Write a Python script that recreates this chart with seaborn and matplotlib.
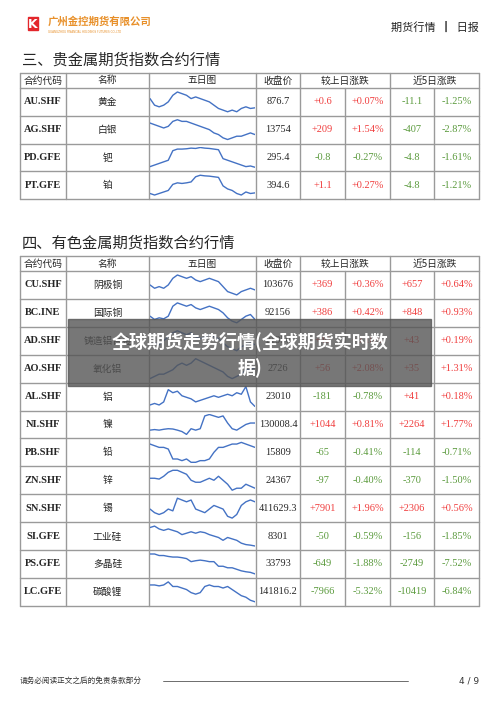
import matplotlib
matplotlib.use("Agg")
import matplotlib.pyplot as plt
import seaborn as sns
import pandas as pd
from matplotlib.patches import Rectangle

sns.set_theme(style="white")
plt.rcParams['font.family'] = ['Liberation Serif', 'Noto Sans CJK SC', 'DejaVu Sans']

# ---------------- data ----------------
codes1 = ["AU.SHF", "AG.SHF", "PD.GFE", "PT.GFE"]
names1 = ["黄金", "白银", "钯", "铂"]
close1 = ["876.7", "13754", "295.4", "394.6"]
chg1 = ["+0.6", "+209", "-0.8", "+1.1"]
pct1 = ["+0.07%", "+1.54%", "-0.27%", "+0.27%"]
chg5_1 = ["-11.1", "-407", "-4.8", "-4.8"]
pct5_1 = ["-1.25%", "-2.87%", "-1.61%", "-1.21%"]
spark1 = [
    [5,3,2.5,3,4,6,7,6.5,6,5,5.5,5,4.5,4,3,2,1.5,1,1.5,1,2,2.5,2,2.2],
    [6,5.5,5,4.5,5,6.5,7,6.5,6.5,6,5.5,5,4.5,4,3,2.5,1.5,1,1.5,2,2,2.5,3,2.5],
    [1,1.5,2,2.5,3,6,6.5,6.5,6.6,6.8,6.7,7,6.8,6.7,6.5,6.3,3.5,3,2.5,2,1.5,1,1.2,0.8],
    [1,0.5,1,1.5,2,4,4.5,4.3,4.5,4.8,6.5,7,6.8,6.7,6.5,6.3,3.5,2.5,2,1,0.5,1.5,1,1.2],
]

codes2 = ["CU.SHF", "BC.INE", "AD.SHF", "AO.SHF", "AL.SHF", "NI.SHF", "PB.SHF",
          "ZN.SHF", "SN.SHF", "SI.GFE", "PS.GFE", "LC.GFE"]
names2 = ["阴极铜", "国际铜", "铸造铝合金", "氧化铝", "铝", "镍", "铅", "锌", "锡",
          "工业硅", "多晶硅", "碳酸锂"]
close2 = ["103676", "92156", "21950", "2726", "23010", "130008.4", "15809", "24367",
          "411629.3", "8301", "33793", "141816.2"]
chg2 = ["+369", "+386", "+40", "+56", "-181", "+1044", "-65", "-97", "+7901", "-50",
        "-649", "-7966"]
pct2 = ["+0.36%", "+0.42%", "+0.18%", "+2.08%", "-0.78%", "+0.81%", "-0.41%", "-0.40%",
        "+1.96%", "-0.59%", "-1.88%", "-5.32%"]
chg5_2 = ["+657", "+848", "+43", "+35", "+41", "+2264", "-114", "-370", "+2306", "-156",
          "-2749", "-10419"]
pct5_2 = ["+0.64%", "+0.93%", "+0.19%", "+1.31%", "+0.18%", "+1.77%", "-0.71%", "-1.50%",
          "+0.56%", "-1.85%", "-7.52%", "-6.84%"]
spark2 = [
    [4,3,3.5,3,4,6,7,6.5,6,6.5,5.5,5,5.5,6,5.5,5,3.5,2,1.5,1,2,2.5,3,2.5],
    [3,2,2.5,2.2,3,6,7,6.5,6,6.5,5.5,5,5.5,6,5.5,5,4,2.5,1.5,1,2,3,3.5,2],
    [3,3.5,3,4,5,6,6.5,6,5.5,6,5,4.5,5,5.5,5,4.5,3.5,2.5,2,1.5,2.5,3,3.5,3],
    [1,1.5,2,2,2.5,3,4,4.5,4,4.5,5.5,5,4.5,4,3.5,3,2.5,1.5,1,1.5,2,3,3,3.5],
    [1,1.5,1,2,6,5,5.5,4,3.5,3,2,2.5,3,3.5,4,3.5,4,4.5,4,5,4.5,7,2,0.5],
    [2,2.2,2,2.3,2.5,2.4,2,1.5,0.5,2.5,2,2.5,7,7.5,7,6.5,7,4.5,2.5,2,3,4,4.5,4.5],
    [6.5,6,5.5,5.5,5,2,2,1.5,2,1,1,1.5,1.5,2,4,5.5,5.5,6,6.5,6.5,7,6.5,6,5.5],
    [4,4,3.8,4.5,5.5,6,6,5.5,5,3.5,3,3,3.5,4,3.5,4.5,3.5,2.5,1,1.5,1.5,2.5,2,1.5],
    [3,2,1.5,2,3,2.5,6,5.5,5,5.5,3,2.5,2,3,4,3.5,3,1,0.5,1.5,4,5,5.5,5],
    [7,7.5,6.5,6,6.5,6,5.5,4.5,5,5.5,5,5.5,5.2,4.5,4,3.5,2.5,3.5,3,2.5,1.5,1,0.8,0.5],
    [7,7,6.5,6.5,6.2,6,6,5.8,5.5,4.5,4.8,5,4.8,4.5,4.5,3,3,2.5,2.5,2,1.5,1.2,1,0.5],
    [5.5,5.5,5.2,5.5,6.5,5,5,4.5,4,3,2.5,3,5,5.5,5,5,4.5,5,4,3,2,1.5,0.5,0],
]
headers = ["合约代码", "名称", "五日图", "收盘价", "较上日涨跌", "近5日涨跌"]

# ---------------- figure ----------------
W, H = 500, 706
fig = plt.figure(figsize=(5, 7.06), dpi=100)
ax = fig.add_axes([0, 0, 1, 1])
ax.set_xlim(0, W); ax.set_ylim(H, 0); ax.axis("off")

RED = "#f03c3c"; GREEN = "#5a9a3c"; BLUE = "#4472c4"; GRID = "#9a9a9a"
SERIF = ['Liberation Serif', 'Noto Sans CJK SC']
CJK = ['Noto Sans CJK SC', 'DejaVu Sans']
cols = [20, 66, 149, 256, 300, 345, 390, 434, 479]

# header
ax.add_patch(Rectangle((28, 17), 10, 13, color="#e3262b"))
ax.text(33, 24, "K", color="white", fontsize=9, fontweight="bold", ha="center", va="center", family=['DejaVu Sans'])
ax.text(48, 22, "广州金控期货有限公司", color="#e8902a", fontsize=7.5, fontweight="bold", va="center", family=CJK)
ax.text(48, 32, "GUANGZHOU FINANCIAL HOLDINGS FUTURES CO.,LTD", color="#e8902a", fontsize=2, va="center", family=['DejaVu Sans'])
ax.text(479, 27, "期货行情  ┃  日报", fontsize=8, ha="right", va="center", family=CJK, color="#222222")


def draw_table(top, hb, codes, names, close, chg, pct, chg5, pct5, sparks, rowh):
    n = len(codes)
    bottom = hb + n * rowh
    ax.plot([cols[0], cols[-1]], [top, top], color=GRID, lw=1)
    ax.plot([cols[0], cols[-1]], [hb, hb], color=GRID, lw=1)
    for i in range(n):
        y = hb + (i + 1) * rowh
        ax.plot([cols[0], cols[-1]], [y, y], color=GRID, lw=1)
    for j, x in enumerate(cols):
        ys = top if j not in (5, 7) else hb
        ax.plot([x, x], [ys, bottom], color=GRID, lw=1)
    hc = [(cols[0] + cols[1]) / 2, (cols[1] + cols[2]) / 2, (cols[2] + cols[3]) / 2,
          (cols[3] + cols[4]) / 2, (cols[4] + cols[6]) / 2, (cols[6] + cols[8]) / 2]
    for h, x in zip(headers, hc):
        ax.text(x, (top + hb) / 2, h, ha="center", va="center", fontsize=7, family=CJK)
    for i in range(n):
        yc = hb + (i + 0.5) * rowh
        ax.text((cols[0] + cols[1]) / 2, yc, codes[i], ha="center", va="center", fontsize=7.5,
                fontweight="bold", family=SERIF)
        ax.text((cols[1] + cols[2]) / 2, yc, names[i], ha="center", va="center", fontsize=7, family=CJK)
        ax.text((cols[3] + cols[4]) / 2, yc, close[i], ha="center", va="center", fontsize=7.5, family=SERIF)
        for k, v in enumerate([chg[i], pct[i], chg5[i], pct5[i]]):
            c = RED if v.startswith("+") else GREEN
            ax.text((cols[4 + k] + cols[5 + k]) / 2, yc, v, ha="center", va="center",
                    fontsize=7.5, color=c, family=SERIF)
        x0, x1 = cols[2] + 1, cols[3] - 1
        y0, y1 = hb + i * rowh + 3, hb + (i + 1) * rowh - 3
        sa = fig.add_axes([x0 / W, 1 - y1 / H, (x1 - x0) / W, (y1 - y0) / H])
        df = pd.DataFrame({"t": range(len(sparks[i])), "v": sparks[i]})
        sns.lineplot(data=df, x="t", y="v", ax=sa, color=BLUE, lw=1)
        sa.set_xlim(0, len(sparks[i]) - 1); sa.axis("off")
        sa.patch.set_alpha(0)


ax.text(22, 60, "三、贵金属期货指数合约行情", fontsize=11, va="center", family=CJK)
draw_table(73, 88, codes1, names1, close1, chg1, pct1, chg5_1, pct5_1, spark1, 27.75)
ax.text(22, 243, "四、有色金属期货指数合约行情", fontsize=11, va="center", family=CJK)
draw_table(256, 271, codes2, names2, close2, chg2, pct2, chg5_2, pct5_2, spark2, 27.9)

# overlay banner
ov = fig.add_axes([0, 0, 1, 1], zorder=10)
ov.set_xlim(0, W); ov.set_ylim(H, 0); ov.axis("off")
ov.add_patch(Rectangle((68, 319), 363, 67, color="#555555", alpha=0.8))
ov.text(250, 341, "全球期货走势行情(全球期货实时数", color="white", fontsize=13, fontweight="bold",
        ha="center", va="center", family=CJK)
ov.text(250, 368, "据)", color="white", fontsize=13, fontweight="bold", ha="center", va="center", family=CJK)

# footer
ax.text(20, 681, "请务必阅读正文之后的免责条款部分", fontsize=5.5, va="center", family=CJK, color="#333333")
ax.plot([163, 408], [681, 681], color="#555555", lw=0.6)
ax.text(479, 681, "4 / 9", fontsize=6.5, ha="right", va="center", family=['DejaVu Sans'], color="#333333")

fig.savefig("out.png", dpi=100, facecolor="white")
